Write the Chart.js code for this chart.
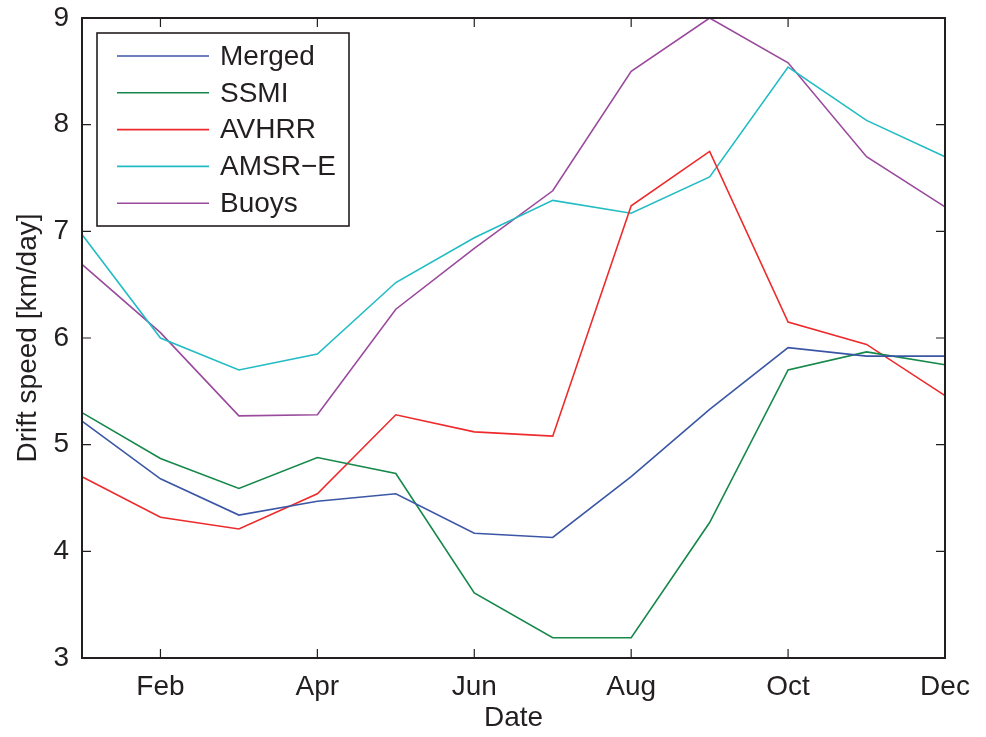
<!DOCTYPE html>
<html>
<head>
<meta charset="utf-8">
<script src="https://cdn.jsdelivr.net/npm/chart.js@4"></script>
<style>
  html, body { margin: 0; padding: 0; background: #fff; }
  #wrap { width: 986px; height: 737px; }
</style>
</head>
<body>
<div id="wrap"><canvas id="chart" width="986" height="737"></canvas></div>
<script>
// months on the x axis, only every second one gets a label
const months = ['Jan', 'Feb', 'Mar', 'Apr', 'May', 'Jun', 'Jul', 'Aug', 'Sep', 'Oct', 'Nov', 'Dec'];
const xTickLabels = ['Feb', 'Apr', 'Jun', 'Aug', 'Oct', 'Dec'];
const yTicks = [3, 4, 5, 6, 7, 8, 9];

// drift speed, km/day
const merged = [5.22, 4.68, 4.34, 4.47, 4.54, 4.17, 4.13, 4.70, 5.33, 5.91, 5.83, 5.83];
const ssmi   = [5.30, 4.87, 4.59, 4.88, 4.73, 3.61, 3.19, 3.19, 4.27, 5.70, 5.87, 5.75];
const avhrr  = [4.70, 4.32, 4.21, 4.54, 5.28, 5.12, 5.08, 7.24, 7.75, 6.15, 5.94, 5.46];
const amsre  = [6.97, 6.00, 5.70, 5.85, 6.52, 6.94, 7.29, 7.17, 7.51, 8.54, 8.04, 7.70];
const buoys  = [6.69, 6.05, 5.27, 5.28, 6.27, 6.84, 7.38, 8.50, 9.00, 8.58, 7.70, 7.23];

const FONT = '"Liberation Sans", Arial, Helvetica, sans-serif';
const AXIS = '#231f20';

function series(label, data, color) {
  return {
    label: label,
    data: data,
    borderColor: color,
    backgroundColor: color,
    borderWidth: 1.6,
    pointRadius: 0,
    tension: 0,
    fill: false
  };
}

// matlab style box with inward ticks on all four sides
const boxPlugin = {
  id: 'box',
  afterDatasetsDraw(chart) {
    const { ctx, chartArea: a } = chart;
    const xs = chart.scales.x, ys = chart.scales.y;
    const tl = 9;
    ctx.save();
    ctx.strokeStyle = AXIS;
    ctx.lineWidth = 1.2;
    ctx.beginPath();
    months.forEach((m, i) => {
      if (!xTickLabels.includes(m)) return;
      const px = xs.getPixelForValue(i);
      ctx.moveTo(px, a.bottom); ctx.lineTo(px, a.bottom - tl);
      ctx.moveTo(px, a.top); ctx.lineTo(px, a.top + tl);
    });
    yTicks.forEach(v => {
      const py = ys.getPixelForValue(v);
      ctx.moveTo(a.left, py); ctx.lineTo(a.left + tl, py);
      ctx.moveTo(a.right, py); ctx.lineTo(a.right - tl, py);
    });
    ctx.stroke();
    ctx.lineWidth = 2;
    ctx.strokeRect(a.left, a.top, a.right - a.left, a.bottom - a.top);

    // legend box inside the plot, upper left
    const lx = a.left + 15, ly = a.top + 15;
    const w = 252, h = 193, row = 36.8;
    ctx.fillStyle = '#fff';
    ctx.fillRect(lx, ly, w, h);
    ctx.lineWidth = 1.6;
    ctx.strokeRect(lx, ly, w, h);
    ctx.font = '28px ' + FONT;
    ctx.textBaseline = 'middle';
    chart.data.datasets.forEach((ds, i) => {
      const cy = ly + 23 + i * row;
      ctx.strokeStyle = ds.borderColor;
      ctx.lineWidth = 1.6;
      ctx.beginPath();
      ctx.moveTo(lx + 20, cy); ctx.lineTo(lx + 112, cy);
      ctx.stroke();
      ctx.fillStyle = '#231f20';
      ctx.fillText(ds.label, lx + 123, cy + 1);
    });
    ctx.restore();
  }
};

const ctx = document.getElementById('chart').getContext('2d');
new Chart(ctx, {
  type: 'line',
  data: {
    labels: months,
    datasets: [
      series('Merged', merged, '#3b56a5'),
      series('SSMI', ssmi, '#15884a'),
      series('AVHRR', avhrr, '#ee2b2c'),
      series('AMSR\u2212E', amsre, '#22bcc4'),
      series('Buoys', buoys, '#9a4a9d')
    ]
  },
  options: {
    responsive: false,
    animation: false,
    layout: { padding: { left: 0, right: 41, top: 18, bottom: 0 } },
    plugins: {
      legend: { display: false },
      tooltip: { enabled: false }
    },
    scales: {
      x: {
        type: 'category',
        offset: false,
        grid: { display: false, drawTicks: false },
        border: { display: false },
        afterFit: s => { s.height = 79; s.paddingLeft = 0; s.paddingRight = 0; },
        ticks: {
          autoSkip: false,
          maxRotation: 0,
          padding: 12,
          color: '#231f20',
          font: { family: FONT, size: 28 },
          callback: function (v, i) {
            return xTickLabels.includes(months[i]) ? months[i] : '';
          }
        },
        title: {
          display: true,
          text: 'Date',
          color: '#231f20',
          font: { family: FONT, size: 28 },
          padding: { top: 0, bottom: 2 }
        }
      },
      y: {
        min: 3,
        max: 9,
        grid: { display: false, drawTicks: false },
        border: { display: false },
        afterFit: s => { s.width = 82; s.paddingTop = 0; s.paddingBottom = 0; },
        afterBuildTicks: s => { s.ticks = yTicks.map(v => ({ value: v })); },
        ticks: {
          padding: 13,
          color: '#231f20',
          font: { family: FONT, size: 28 }
        },
        title: {
          display: true,
          text: 'Drift speed [km/day]',
          color: '#231f20',
          font: { family: FONT, size: 28 },
          padding: { top: 11, bottom: 0 }
        }
      }
    }
  },
  plugins: [boxPlugin]
});
</script>
</body>
</html>
